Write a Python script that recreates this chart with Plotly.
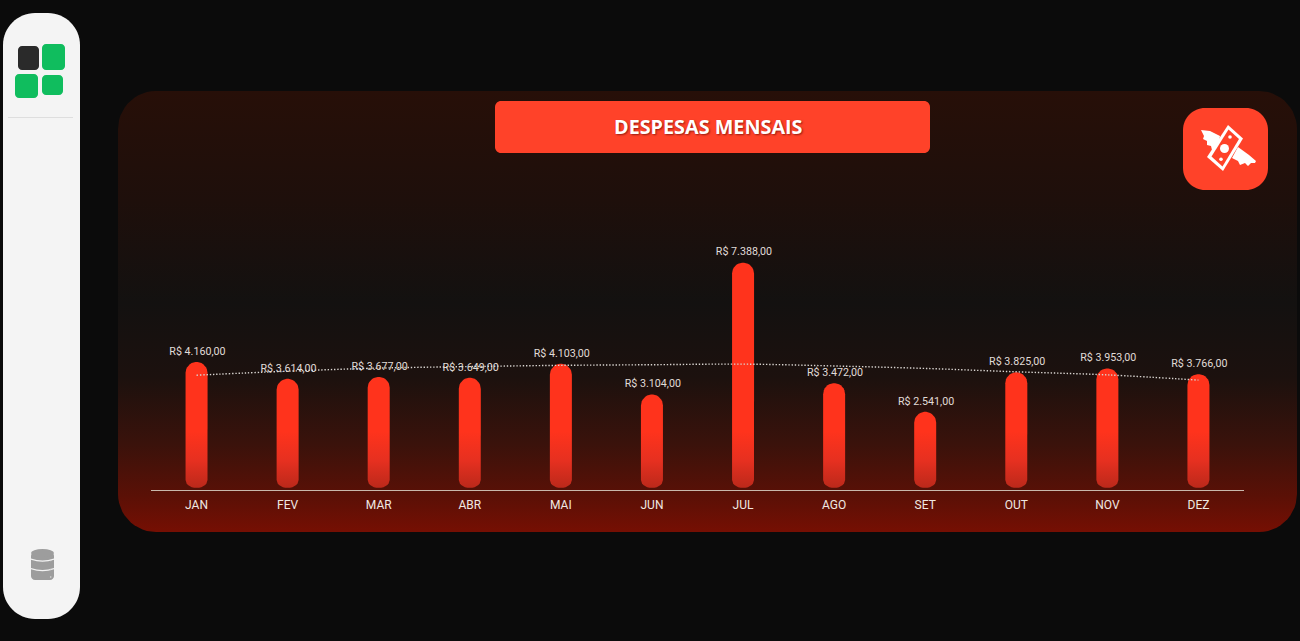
import numpy as np
import plotly.graph_objects as go

# data
meses = ["JAN", "FEV", "MAR", "ABR", "MAI", "JUN", "JUL", "AGO", "SET", "OUT", "NOV", "DEZ"]
despesas = [4160, 3614, 3677, 3649, 4103, 3104, 7388, 3472, 2541, 3825, 3953, 3766]
tendencia = [3730, 3860, 3960, 4010, 4050, 4070, 4090, 4030, 3950, 3840, 3740, 3570]
titulo = "DESPESAS MENSAIS"

W, H = 1300, 641
BASE_Y = 490
TOPO_Y = 213
EIXO_X0, EIXO_X1 = 151, 1244
Y_MAX = 9000

FUNDO = "#0b0b0b"
VERMELHO = "#ff4229"
VERDE = "#10bd5e"
TEXTO = "#e0dcd8"


def moeda(v):
    return "R$ " + f"{v:,.2f}".replace(",", "X").replace(".", ",").replace("X", ".")


def ret_path(x0, y0, x1, y1, r):
    k = r * 0.45
    return (f"M{x0+r},{y0} L{x1-r},{y0} C{x1-k},{y0} {x1},{y0+k} {x1},{y0+r} "
            f"L{x1},{y1-r} C{x1},{y1-k} {x1-k},{y1} {x1-r},{y1} "
            f"L{x0+r},{y1} C{x0+k},{y1} {x0},{y1-k} {x0},{y1-r} "
            f"L{x0},{y0+r} C{x0},{y0+k} {x0+k},{y0} {x0+r},{y0} Z")


def forma(path, cor):
    return dict(type="path", path=path, xref="x", yref="y", fillcolor=cor, line=dict(width=0), layer="above")


def circulo(cx, cy, r, cor, ry=None):
    ry = r if ry is None else ry
    return dict(type="circle", xref="x", yref="y", x0=cx-r, x1=cx+r, y0=cy-ry, y1=cy+ry,
                fillcolor=cor, line=dict(width=0), layer="above")


def painel_xy(x0, y0, x1, y1, r):
    t = np.linspace(0, np.pi / 2, 14)
    xs = np.concatenate([x1 - r + r*np.sin(t), x1 - r + r*np.cos(t), x0 + r - r*np.sin(t), x0 + r - r*np.cos(t)])
    ys = np.concatenate([y0 + r - r*np.cos(t), y1 - r + r*np.sin(t), y1 - r + r*np.cos(t), y0 + r - r*np.sin(t)])
    return list(xs) + [xs[0]], list(ys) + [ys[0]]


# barra com topo e base arredondados, em unidades dos eixos
px_x = (EIXO_X1 - EIXO_X0) / 12
px_y = (BASE_Y - TOPO_Y) / Y_MAX


def barra_xy(i, v, larg=22, base=2):
    rx = larg / 2 / px_x
    ry = larg / 2 / px_y
    y0 = base / px_y
    rb = 8 / px_y
    t = np.linspace(0, np.pi, 18)
    s = np.linspace(0, np.pi / 2, 8)
    fundo_x = list(i - rx*np.cos(s) * 0.999)
    fundo_y = list(y0 + rb - rb*np.sin(s))
    xs = fundo_x + [2*i - a for a in reversed(fundo_x)] + list(i + rx*np.cos(t)) + [fundo_x[0]]
    ys = fundo_y + list(reversed(fundo_y)) + list(v - ry + ry*np.sin(t)) + [fundo_y[0]]
    return xs, ys


fig = go.Figure()

# painel com degrade
px_, py_ = painel_xy(118, 91, 1297, 532, 38)
fig.add_trace(go.Scatter(
    x=px_, y=py_, xaxis="x", yaxis="y", mode="lines", line=dict(width=0), fill="toself",
    fillgradient=dict(type="vertical", start=91, stop=532, colorscale=[
        [0, "#270f08"], [0.25, "#1e0f0b"], [0.48, "#131110"], [0.65, "#1c110e"],
        [0.8, "#3a120b"], [0.92, "#5b1006"], [1, "#760f03"]]),
    hoverinfo="skip", showlegend=False))

# barras
for i, v in enumerate(despesas):
    bx, by = barra_xy(i, v)
    fig.add_trace(go.Scatter(
        x=bx, y=by, xaxis="x2", yaxis="y2", mode="lines", line=dict(width=0), fill="toself",
        fillgradient=dict(type="vertical", start=0, stop=1900, colorscale=[
            [0, "#b8281a"], [0.5, "#e63020"], [1, "#ff331c"]]),
        hoverinfo="skip", showlegend=False))

# linha pontilhada
fig.add_trace(go.Scatter(
    x=list(range(12)), y=tendencia, xaxis="x2", yaxis="y2", mode="lines",
    line=dict(color="#d8d4d0", width=1.4, dash="1.4px,1.8px", shape="spline"),
    hoverinfo="skip", showlegend=False))

# rotulos, um pouco acima do topo das barras
fig.add_trace(go.Scatter(
    x=[i + 0.01 for i in range(12)], y=[v + 4.5 / px_y for v in despesas], xaxis="x2", yaxis="y2", mode="text",
    text=[moeda(v) for v in despesas], textposition="top center",
    textfont=dict(family="Roboto", size=10.7, color=TEXTO),
    hoverinfo="skip", showlegend=False))

shapes = [
    # barra lateral
    forma(ret_path(3, 13, 80, 619, 32), "#f4f4f4"),
    forma(ret_path(18, 46, 39, 70, 4), "#2a2a2a"),
    forma(ret_path(42, 44, 65, 70, 4), VERDE),
    forma(ret_path(15, 74, 38, 98, 4), VERDE),
    forma(ret_path(42, 75, 63, 95, 4), VERDE),
    forma("M8,117 L73,117 L73,118 L8,118 Z", "#dedede"),
    # caixa do titulo e icone
    forma(ret_path(495, 101, 930, 153, 6), VERMELHO),
    forma(ret_path(1183, 108, 1268, 190, 22), VERMELHO),
    # asas e nota
    forma("M1201,130 L1210,131 L1220,136 L1217,151 L1212,150 L1211,146 L1207,145 L1207,141 L1203,139 L1204,136 Z", "white"),
    forma("M1256,161 L1249,155 L1238,147 L1232,158 L1238,161 L1240,165 L1245,163 L1248,166 L1251,163 L1255,163 Z", "white"),
    forma("M1228,125 L1243,138.5 L1223,171 L1207,157 Z", "white"),
    forma("M1228.5,129.5 L1239,139 L1222.5,166.5 L1211.5,156.5 Z", VERMELHO),
    circulo(1224.5, 148.5, 4.5, "white"),
    circulo(1230, 137, 1.8, "white"),
    circulo(1221, 159.3, 1.8, "white"),
    # icone do banco de dados
    forma(ret_path(31, 552, 54, 580, 4), "#9d9d9d"),
    circulo(42.5, 553, 11.5, "#9d9d9d", 4),
]
for cy in [558.5, 568]:
    shapes.append(forma(f"M31,{cy} Q42.5,{cy+4} 54,{cy} L54,{cy+1.3} Q42.5,{cy+5.3} 31,{cy+1.3} Z", "#f4f4f4"))
for cy in [560.5, 569.5, 577]:
    shapes.append(circulo(50.7, cy, 0.8, "#dcdcdc"))

fig.update_layout(
    width=W, height=H, margin=dict(l=0, r=0, t=0, b=0),
    paper_bgcolor=FUNDO, plot_bgcolor="rgba(0,0,0,0)", showlegend=False,
    shapes=shapes,
    xaxis=dict(domain=[0, 1], range=[0, W], visible=False, fixedrange=True),
    yaxis=dict(domain=[0, 1], range=[H, 0], visible=False, fixedrange=True),
    xaxis2=dict(domain=[EIXO_X0 / W, EIXO_X1 / W], range=[-0.5, 11.5], anchor="y2",
                tickvals=list(range(12)), ticktext=meses, ticks="", showgrid=False, zeroline=False,
                showline=True, linecolor="#c9b8ac", linewidth=1, ticklabelstandoff=4,
                tickfont=dict(family="Roboto", size=12, color="#f0e8e2"), fixedrange=True),
    yaxis2=dict(domain=[(H - BASE_Y) / H, (H - TOPO_Y) / H], range=[0, Y_MAX], anchor="x2",
                visible=False, fixedrange=True),
    annotations=[dict(x=708.5, y=126, xref="x", yref="y", text=f"<b>{titulo}</b>", showarrow=False,
                      font=dict(family="Open Sans", size=19.8, color="white",
                                shadow="1px 1px 2px rgba(80,0,0,0.6)"))],
)

fig.write_html("out.html", config=dict(displayModeBar=False),
               post_script=f"document.body.style.margin='0';document.body.style.overflow='hidden';document.body.style.background='{FUNDO}';")
